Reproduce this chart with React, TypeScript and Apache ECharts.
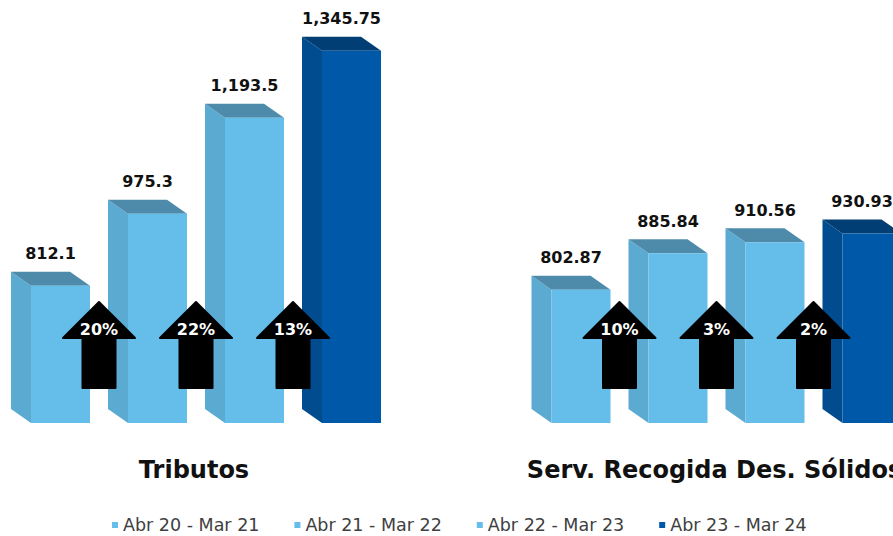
import React, { useEffect, useRef } from "react";
import * as echarts from "echarts";

const categories = ["Tributos", "Serv. Recogida Des. Sólidos"];
const seriesNames = ["Abr 20 - Mar 21", "Abr 21 - Mar 22", "Abr 22 - Mar 23", "Abr 23 - Mar 24"];
const tributosValues = [812.1, 975.3, 1193.5, 1345.75];
const solidosValues = [802.87, 885.84, 910.56, 930.93];
const tributosGrowth = [20, 22, 13];
const solidosGrowth = [10, 3, 2];

const AXIS_MIN = 500;
const AXIS_MAX = 1400;

const PITCH = 97;
const FRONT_W = 59;
const DX = 20;
const DY = 14;

const palettes = [
  { front: "#65BDE9", side: "#5BAAD2", top: "#4E8BAB" },
  { front: "#65BDE9", side: "#5BAAD2", top: "#4E8BAB" },
  { front: "#65BDE9", side: "#5BAAD2", top: "#4E8BAB" },
  { front: "#0059A8", side: "#004C8E", top: "#003E74" },
];

const FONT = "'DejaVu Sans', sans-serif";

function fmt(v: number) {
  return v.toLocaleString("en-US", { maximumFractionDigits: 2 });
}

export default function App() {
  const ref = useRef<HTMLDivElement>(null);
  useEffect(() => {
    document.body.style.margin = "0";
    if (!ref.current) return;
    const chart = echarts.init(ref.current, null, { renderer: "svg" });

    const groupValues = [tributosValues, solidosValues];
    const groupGrowth = [tributosGrowth, solidosGrowth];

    const barSeries = seriesNames.map((name, k) => ({
      type: "custom",
      name,
      coordinateSystem: "cartesian2d",
      itemStyle: { color: palettes[k].front },
      data: groupValues.map((vals, g) => [g, vals[k]]),
      z: 2,
      renderItem: (params: any, api: any) => {
        const g = api.value(0);
        const v = api.value(1);
        const c = api.coord([g, v]);
        const base = api.coord([g, AXIS_MIN]);
        const fx = c[0] + (k - 1.5) * PITCH - FRONT_W / 2;
        const top = c[1];
        const bottom = base[1];
        const p = palettes[k];
        return {
          type: "group",
          children: [
            {
              type: "polygon",
              shape: { points: [[fx - DX, top - DY], [fx, top], [fx, bottom], [fx - DX, bottom - DY]] },
              style: { fill: p.side },
            },
            {
              type: "polygon",
              shape: {
                points: [[fx - DX, top - DY], [fx + FRONT_W - DX, top - DY], [fx + FRONT_W, top], [fx, top]],
              },
              style: { fill: p.top },
            },
            {
              type: "rect",
              shape: { x: fx, y: top, width: FRONT_W, height: bottom - top },
              style: { fill: p.front },
            },
            {
              type: "text",
              style: {
                text: fmt(v),
                x: fx + FRONT_W / 2 - DX / 2,
                y: top - 32,
                fill: "#111111",
                fontSize: 16,
                fontWeight: "bold",
                fontFamily: FONT,
                align: "center",
                verticalAlign: "middle",
              },
            },
          ],
        };
      },
    }));

    const arrowData: number[][] = [];
    groupGrowth.forEach((arr, g) => arr.forEach((pct, j) => arrowData.push([g, AXIS_MIN, j, pct])));

    const arrowSeries = {
      type: "custom",
      name: "growth",
      coordinateSystem: "cartesian2d",
      data: arrowData,
      z: 5,
      renderItem: (params: any, api: any) => {
        const g = api.value(0);
        const j = api.value(2);
        const pct = api.value(3);
        const base = api.coord([g, AXIS_MIN]);
        const cx = base[0] + (j - 1) * PITCH - 10;
        const b = base[1];
        const tip = b - 121;
        const headBase = b - 85;
        const shaftBottom = b - 35;
        const hw = 36;
        const sw = 16.5;
        return {
          type: "group",
          children: [
            {
              type: "polygon",
              shape: {
                points: [
                  [cx, tip],
                  [cx + hw, headBase],
                  [cx + sw, headBase],
                  [cx + sw, shaftBottom],
                  [cx - sw, shaftBottom],
                  [cx - sw, headBase],
                  [cx - hw, headBase],
                ],
              },
              style: { fill: "#000000", stroke: "#000000", lineWidth: 2, lineJoin: "round" },
            },
            {
              type: "text",
              style: {
                text: pct + "%",
                x: cx,
                y: b - 94,
                fill: "#ffffff",
                fontSize: 16,
                fontWeight: "bold",
                fontFamily: FONT,
                align: "center",
                verticalAlign: "middle",
              },
            },
          ],
        };
      },
    };

    const titleSeries = {
      type: "custom",
      name: "titles",
      coordinateSystem: "cartesian2d",
      data: categories.map((_, g) => [g, AXIS_MIN]),
      z: 3,
      renderItem: (params: any, api: any) => {
        const g = api.value(0);
        const base = api.coord([g, AXIS_MIN]);
        return {
          type: "text",
          style: {
            text: categories[params.dataIndex],
            x: base[0] - 12,
            y: base[1] + 47,
            fill: "#111111",
            fontSize: 24,
            fontWeight: "bold",
            fontFamily: FONT,
            align: "center",
            verticalAlign: "middle",
          },
        };
      },
    };

    chart.setOption({
      animation: false,
      grid: { left: 0, right: 0, top: 27, bottom: 113 },
      xAxis: { type: "value", min: -206 / 520.5, max: 687 / 520.5, show: false },
      yAxis: { type: "value", min: AXIS_MIN, max: AXIS_MAX, show: false },
      legend: {
        data: seriesNames,
        top: 511,
        left: 107,
        icon: "rect",
        itemWidth: 6,
        itemHeight: 6,
        itemGap: 35,
        itemStyle: { borderWidth: 0 },
        textStyle: { fontSize: 17.5, color: "#404040", fontFamily: FONT },
        selectedMode: false,
      },
      series: [...barSeries, arrowSeries, titleSeries],
    });
    return () => chart.dispose();
  }, []);
  return <div ref={ref} style={{ width: 893, height: 536 }} />;
}
